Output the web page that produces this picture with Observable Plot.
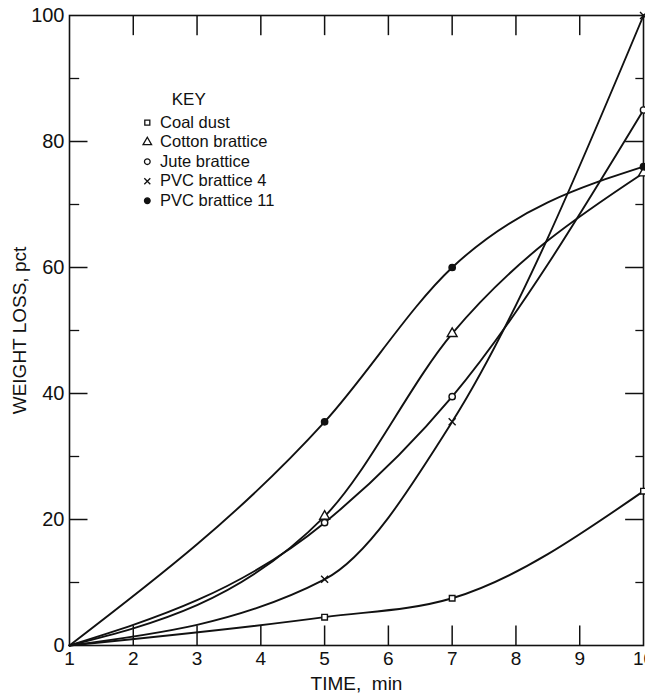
<!DOCTYPE html>
<html>
<head>
<meta charset="utf-8">
<script src="https://cdn.jsdelivr.net/npm/d3@7"></script>
<script src="https://cdn.jsdelivr.net/npm/@observablehq/plot@0.6"></script>
<style>
  html, body { margin: 0; padding: 0; background: #fff; }
  #chart { width: 645px; height: 698px; overflow: hidden; }
  svg { font-family: "Liberation Sans", Arial, sans-serif; }
</style>
</head>
<body>
<div id="chart"></div>
<script>
const times = [1, 5, 7, 10];
const coalDust = [0, 4.5, 7.5, 24.5];
const cottonBrattice = [0, 20.5, 49.5, 75];
const juteBrattice = [0, 19.5, 39.5, 85];
const pvcBrattice4 = [0, 10.5, 35.5, 100];
const pvcBrattice11 = [0, 35.5, 60, 76];

const seriesNames = ["Coal dust", "Cotton brattice", "Jute brattice", "PVC brattice 4", "PVC brattice 11"];
const seriesSymbols = ["square", "triangle", "circle", "times", "circle"];
const seriesFilled = [false, false, false, false, true];
const seriesValues = [coalDust, cottonBrattice, juteBrattice, pvcBrattice4, pvcBrattice11];

const xTickValues = [1, 2, 3, 4, 5, 6, 7, 8, 9, 10];
const yTickValues = [0, 20, 40, 60, 80, 100];
const yMinorValues = [10, 30, 50, 70, 90];

const rows = [];
seriesNames.forEach((name, s) => {
  times.forEach((t, i) => rows.push({series: name, s, time: t, loss: seriesValues[s][i]}));
});
const markerRows = rows.filter(d => d.time !== 1);

const legend = seriesNames.map((name, i) => ({name, i, symbol: seriesSymbols[i], filled: seriesFilled[i]}));
const legendY = i => 83 - i * 3.1;

const W = 645, H = 698;
const chart = Plot.plot({
  width: W,
  height: H,
  marginLeft: 69,
  marginRight: 2,
  marginTop: 15,
  marginBottom: 53,
  style: {fontFamily: "Liberation Sans, Arial, sans-serif", color: "#111", background: "#fff", overflow: "visible"},
  x: {domain: [1, 10]},
  y: {domain: [0, 100]},
  symbol: {type: "identity"},
  marks: [
    Plot.frame({stroke: "#111", strokeWidth: 1.6}),
    // inward ticks (bottom/top)
    Plot.ruleX(xTickValues.slice(1, -1), {x: d => d, y1: 0, y2: 3.1, stroke: "#111", strokeWidth: 1.5}),
    Plot.ruleX(xTickValues.slice(1, -1), {x: d => d, y1: 100, y2: 96.8, stroke: "#111", strokeWidth: 1.5}),
    // inward ticks (left/right)
    Plot.ruleY(yTickValues.slice(1, -1), {y: d => d, x1: 1, x2: 1.29, stroke: "#111", strokeWidth: 1.5}),
    Plot.ruleY(yMinorValues, {y: d => d, x1: 1, x2: 1.16, stroke: "#111", strokeWidth: 1.3}),
    Plot.ruleY(yTickValues.slice(1, -1), {y: d => d, x1: 10, x2: 9.72, stroke: "#111", strokeWidth: 1.5}),
    Plot.ruleY(yMinorValues, {y: d => d, x1: 10, x2: 9.88, stroke: "#111", strokeWidth: 1.3}),
    Plot.axisX(xTickValues, {tickSize: 0, tickPadding: 6, fontSize: 19, label: null, tickFormat: d => String(d)}),
    Plot.axisY(yTickValues, {tickSize: 0, tickPadding: 5, fontSize: 20, label: null, tickFormat: d => String(d)}),
    Plot.text(["TIME,  min"], {frameAnchor: "bottom", dy: 44, fontSize: 19, fill: "#111"}),
    Plot.text(["WEIGHT LOSS, pct"], {frameAnchor: "left", textAnchor: "middle", dx: -50, rotate: -90, fontSize: 19, fill: "#111"}),
    // curves
    Plot.line(rows, {x: "time", y: "loss", z: "series", curve: "monotone-x", stroke: "#111", strokeWidth: 1.9}),
    // markers
    Plot.dot(markerRows, {x: "time", y: "loss",
      symbol: d => seriesSymbols[d.s],
      r: d => seriesSymbols[d.s] === "times" ? 4.8 : (seriesSymbols[d.s] === "triangle" ? 6 : 4.5),
      fill: d => seriesFilled[d.s] ? "#111" : (seriesSymbols[d.s] === "times" ? "none" : "#fff"),
      stroke: "#111", strokeWidth: 1.4}),
    // legend
    Plot.text(["KEY"], {x: 2.87, y: 86.6, fontSize: 17, fill: "#111"}),
    Plot.dot(legend, {x: 2.22, y: d => legendY(d.i), symbol: "symbol",
      r: d => d.symbol === "triangle" ? 4.5 : 3.6,
      fill: d => d.filled ? "#111" : (d.symbol === "times" ? "none" : "#fff"),
      stroke: "#111", strokeWidth: 1.3}),
    Plot.text(legend, {x: 2.42, y: d => legendY(d.i), text: "name", textAnchor: "start", fontSize: 16.5, fill: "#111"})
  ]
});
document.getElementById("chart").appendChild(chart);
</script>
</body>
</html>
